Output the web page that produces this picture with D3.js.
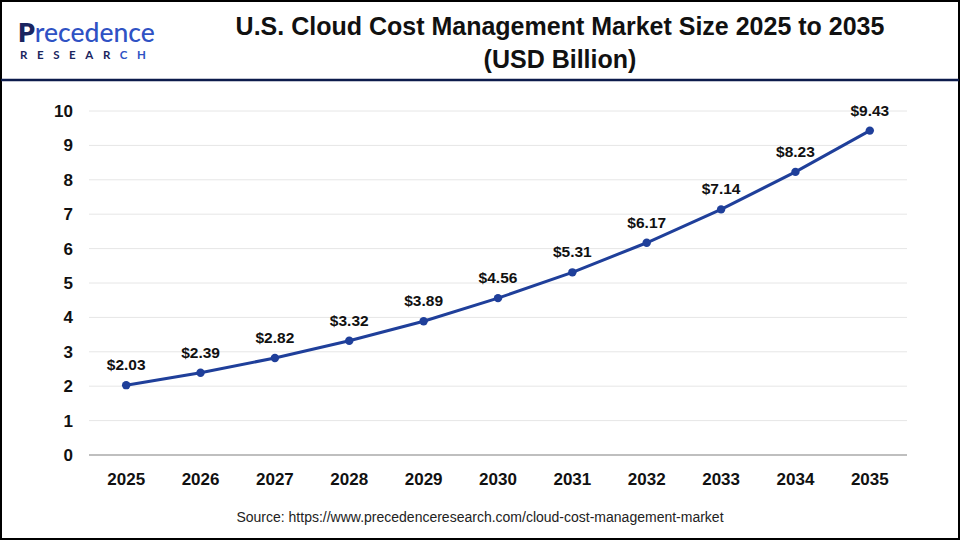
<!DOCTYPE html>
<html><head><meta charset="utf-8">
<script src="https://cdn.jsdelivr.net/npm/d3@7"></script>
<style>body{margin:0;background:#fff}svg{display:block}</style>
</head><body>
<svg id="c" width="960" height="540"></svg>
<script>
const years = ["2025","2026","2027","2028","2029","2030","2031","2032","2033","2034","2035"];
const values = [2.03,2.39,2.82,3.32,3.89,4.56,5.31,6.17,7.14,8.23,9.43];
const yTicks = [0,1,2,3,4,5,6,7,8,9,10];
const titleLines = ["U.S. Cloud Cost Management Market Size 2025 to 2035","(USD Billion)"];
const sourceText = "Source: https://www.precedenceresearch.com/cloud-cost-management-market";

const svg = d3.select("#c");
const W=960,H=540;
svg.append("rect").attr("x",1).attr("y",1).attr("width",W-2).attr("height",H-2).attr("fill","#fff").attr("stroke","#000").attr("stroke-width",2);
svg.append("line").attr("x1",1).attr("x2",W-1).attr("y1",80).attr("y2",80).attr("stroke","#0d1b4c").attr("stroke-width",2.5);

// logo
const logo = svg.append("g");
const t1 = logo.append("text").attr("x",18).attr("y",42).attr("font-family","Lato, sans-serif").attr("font-size",26.5).attr("font-weight",500);
t1.append("tspan").attr("fill","#1a2560").attr("font-weight",800).text("P");
t1.append("tspan").attr("fill","#2f52c4").text("recedence");
const t2 = logo.append("text").attr("x",20).attr("y",59).attr("font-family","Lato, sans-serif").attr("font-size",11.5).attr("font-weight",700).attr("letter-spacing",9.6);
t2.append("tspan").attr("fill","#1a2560").text("RESEAR");
t2.append("tspan").attr("fill","#2f52c4").text("CH");

// title
svg.append("g").selectAll("text").data(titleLines).join("text")
  .attr("x",560).attr("y",(d,i)=>35+i*33).attr("text-anchor","middle")
  .attr("font-family","Liberation Sans, Arial, sans-serif").attr("font-weight",700).attr("font-size",25).attr("fill","#111")
  .text(d=>d);

const m = {l:89,r:907,t:111,b:455};
const x = d3.scaleBand().domain(years).range([m.l,m.r]);
const y = d3.scaleLinear().domain([0,10]).range([m.b,m.t]);

// grid
svg.append("g").selectAll("line").data(yTicks.filter(d=>d>0)).join("line")
  .attr("x1",m.l).attr("x2",m.r).attr("y1",d=>y(d)).attr("y2",d=>y(d)).attr("stroke","#e6e6e6").attr("stroke-width",1);
svg.append("line").attr("x1",m.l).attr("x2",m.r).attr("y1",y(0)).attr("y2",y(0)).attr("stroke","#bfbfbf").attr("stroke-width",2);

// y axis
const ya = svg.append("g").attr("transform",`translate(${m.l-16},0)`)
  .call(d3.axisLeft(y).tickValues(yTicks).tickSize(0).tickPadding(0));
ya.select(".domain").remove();
ya.selectAll("text").attr("font-family","Liberation Sans, Arial, sans-serif").attr("font-weight",700).attr("font-size",17).attr("fill","#111");

// x axis
const xa = svg.append("g").attr("transform",`translate(0,${m.b})`)
  .call(d3.axisBottom(x).tickSize(0).tickPadding(18));
xa.select(".domain").remove();
xa.selectAll("text").attr("font-family","Liberation Sans, Arial, sans-serif").attr("font-weight",700).attr("font-size",17).attr("fill","#111");

const pts = years.map((yr,i)=>({yr,v:values[i]}));
const cx = d=>x(d.yr)+x.bandwidth()/2;
svg.append("path").datum(pts).attr("fill","none").attr("stroke","#1f3f9a").attr("stroke-width",3)
  .attr("d",d3.line().x(cx).y(d=>y(d.v)));
svg.append("g").selectAll("circle").data(pts).join("circle")
  .attr("cx",cx).attr("cy",d=>y(d.v)).attr("r",4.2).attr("fill","#1f3f9a");
svg.append("g").selectAll("text").data(pts).join("text")
  .attr("x",cx).attr("y",d=>y(d.v)-15).attr("text-anchor","middle")
  .attr("font-family","Liberation Sans, Arial, sans-serif").attr("font-weight",700).attr("font-size",15.5).attr("fill","#111")
  .text(d=>"$"+d.v.toFixed(2));

svg.append("text").attr("x",480).attr("y",522).attr("text-anchor","middle")
  .attr("font-family","Liberation Sans, Arial, sans-serif").attr("font-size",14).attr("fill","#222").text(sourceText);
</script>
</body></html>
